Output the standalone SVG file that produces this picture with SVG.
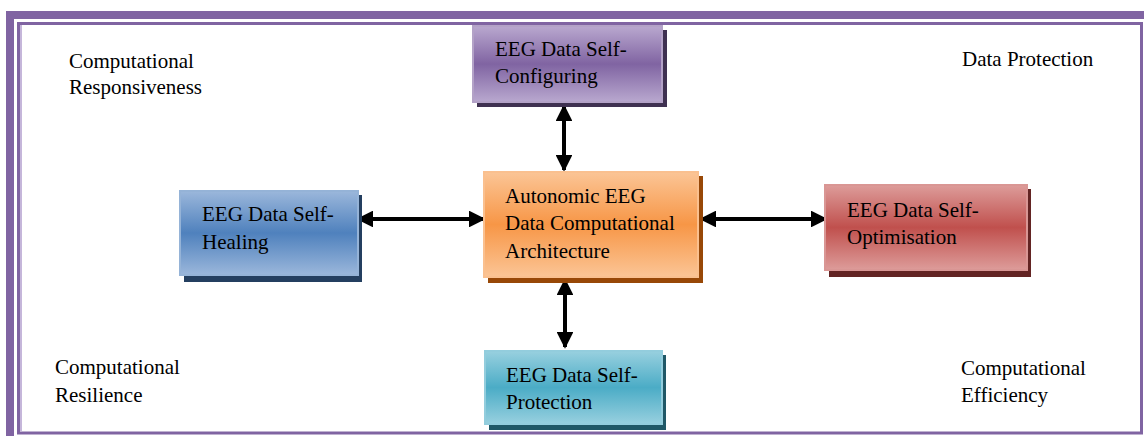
<svg xmlns="http://www.w3.org/2000/svg" width="1144" height="436" viewBox="0 0 1144 436">
  <style>
    text { font-family: "Liberation Serif", "Times New Roman", serif; font-size: 21px; fill: #000; }
    .link { stroke: #000; stroke-width: 4; fill: none; marker-start: url(#head); marker-end: url(#head); }
  </style>
  <defs>
    <marker id="head" viewBox="0 0 10 10" refX="9" refY="5" markerWidth="4.2" markerHeight="4.2" markerUnits="strokeWidth" orient="auto-start-reverse">
      <path d="M0,0 L10,5 L0,10 z" fill="#000"/>
    </marker>
    <linearGradient id="gPurple" x1="0" y1="0" x2="0" y2="1">
      <stop offset="0" stop-color="#b9a8cf"/>
      <stop offset="0.5" stop-color="#8064a2"/>
      <stop offset="1" stop-color="#b9a8cf"/>
    </linearGradient>
    <linearGradient id="gBlue" x1="0" y1="0" x2="0" y2="1">
      <stop offset="0" stop-color="#9bb7db"/>
      <stop offset="0.5" stop-color="#4f81bd"/>
      <stop offset="1" stop-color="#9bb7db"/>
    </linearGradient>
    <linearGradient id="gOrange" x1="0" y1="0" x2="0" y2="1">
      <stop offset="0" stop-color="#fbc596"/>
      <stop offset="0.5" stop-color="#f79646"/>
      <stop offset="1" stop-color="#fbc596"/>
    </linearGradient>
    <linearGradient id="gRed" x1="0" y1="0" x2="0" y2="1">
      <stop offset="0" stop-color="#dd9c9a"/>
      <stop offset="0.5" stop-color="#c0504d"/>
      <stop offset="1" stop-color="#dd9c9a"/>
    </linearGradient>
    <linearGradient id="gTeal" x1="0" y1="0" x2="0" y2="1">
      <stop offset="0" stop-color="#98d0df"/>
      <stop offset="0.5" stop-color="#4bacc6"/>
      <stop offset="1" stop-color="#98d0df"/>
    </linearGradient>
  </defs>

  <rect width="1144" height="436" fill="#fff"/>

  <!-- page border: heavy band top/left, thin inner frame -->
  <g id="frame">
    <rect x="6" y="11" width="1138" height="8" fill="#8064a2"/>
    <rect x="6" y="11" width="8" height="425" fill="#8064a2"/>
    <rect x="18.5" y="23.5" width="1123" height="409.5" fill="none" stroke="#8064a2" stroke-width="3"/>
    <rect x="20" y="25" width="2" height="406" fill="#c5b6da"/>
  </g>

  <!-- corner captions -->
  <g id="label-responsiveness">
    <text x="69" y="68">Computational</text>
    <text x="69" y="94">Responsiveness</text>
  </g>
  <g id="label-protection">
    <text x="962" y="66">Data Protection</text>
  </g>
  <g id="label-resilience">
    <text x="55" y="374">Computational</text>
    <text x="55" y="402">Resilience</text>
  </g>
  <g id="label-efficiency">
    <text x="961" y="375">Computational</text>
    <text x="961" y="402">Efficiency</text>
  </g>

  <!-- connectors -->
  <g id="connectors">
    <line class="link" x1="564" y1="106" x2="564" y2="170"/>
    <line class="link" x1="358" y1="219" x2="484" y2="219"/>
    <line class="link" x1="701" y1="219" x2="826" y2="219"/>
    <line class="link" x1="565" y1="280" x2="565" y2="347"/>
  </g>

  <g id="node-configuring">
    <rect x="477" y="30" width="190" height="77" fill="#3f3151"/>
    <rect x="473" y="26" width="189" height="76" fill="url(#gPurple)" stroke="#b3a2c7" stroke-width="2"/>
    <text x="495" y="56">EEG Data Self-</text>
    <text x="495" y="83">Configuring</text>
  </g>

  <g id="node-healing">
    <rect x="184" y="195" width="178" height="87" fill="#243f60"/>
    <rect x="180" y="191" width="178" height="84" fill="url(#gBlue)" stroke="#95b3d7" stroke-width="2"/>
    <text x="202" y="221">EEG Data Self-</text>
    <text x="202" y="249">Healing</text>
  </g>

  <g id="node-core">
    <rect x="488" y="176" width="215" height="107" fill="#984807"/>
    <rect x="484" y="172" width="214" height="105" fill="url(#gOrange)" stroke="#fac08f" stroke-width="2"/>
    <text x="505" y="203">Autonomic EEG</text>
    <text x="505" y="230">Data Computational</text>
    <text x="505" y="258">Architecture</text>
  </g>

  <g id="node-optimisation">
    <rect x="829" y="189" width="202" height="88" fill="#632423"/>
    <rect x="825" y="185" width="202" height="85" fill="url(#gRed)" stroke="#d99694" stroke-width="2"/>
    <text x="847" y="217">EEG Data Self-</text>
    <text x="847" y="244">Optimisation</text>
  </g>

  <g id="node-protection">
    <rect x="489" y="355" width="177" height="75" fill="#205867"/>
    <rect x="485" y="351" width="177" height="73" fill="url(#gTeal)" stroke="#93cddd" stroke-width="2"/>
    <text x="506" y="382">EEG Data Self-</text>
    <text x="506" y="409">Protection</text>
  </g>
</svg>
